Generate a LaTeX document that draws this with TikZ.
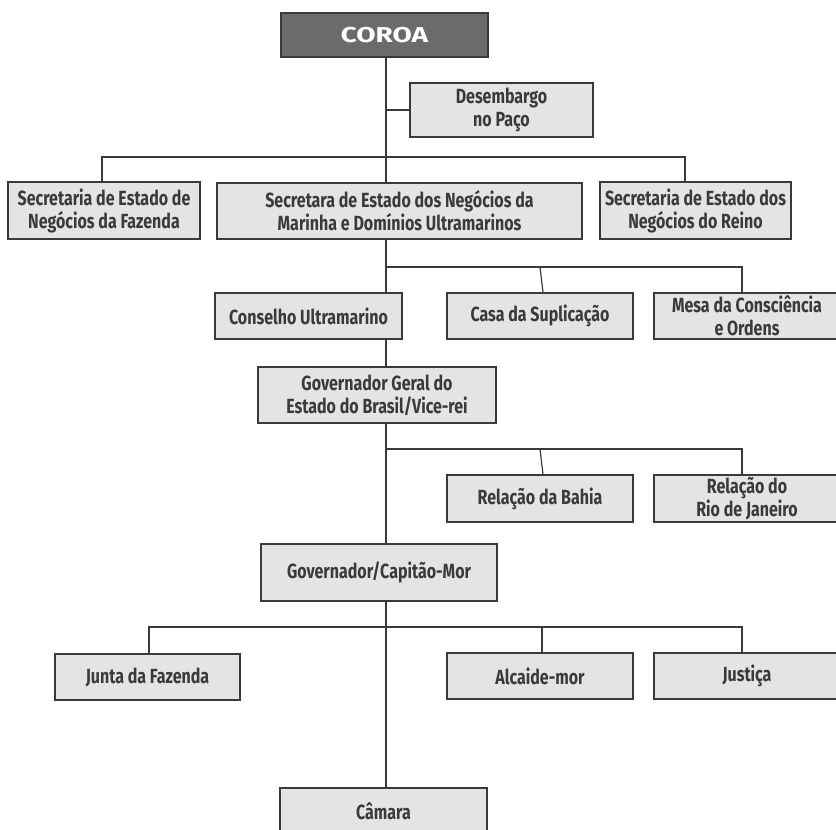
\documentclass[tikz,border=0pt]{standalone}
\usepackage{fontspec}
\newfontfamily\orgfont[FakeStretch=0.78]{Fira Sans}
\newfontfamily\crownfont[FakeStretch=1.3]{Fira Sans}
\usepackage{xcolor}
\usepackage{tikz}
\usetikzlibrary{positioning,backgrounds}

\definecolor{boxgray}{HTML}{E3E4E5}
\definecolor{linegray}{HTML}{3A3A3A}
\definecolor{crowngray}{HTML}{6B6B6B}

\begin{document}
\begin{tikzpicture}[
  x=1pt, y=-1pt,
  org/.style={rectangle, draw=linegray, line width=1.6pt, fill=boxgray, align=center, text=linegray, font=\orgfont\bfseries\fontsize{20.5}{23}\selectfont, inner sep=0pt},
  crown/.style={org, fill=crowngray, text=white, font=\crownfont\bfseries\fontsize{21.5}{24}\selectfont},
  link/.style={draw=linegray, line width=1.6pt},
  drop/.style={draw=linegray, line width=1.2pt}
]
  \useasboundingbox (0,0) rectangle (836,830);

  % Coroa
  \node[crown, minimum width=207pt, minimum height=44pt] (coroa) at (384.5,35) {COROA};
  \node[org, minimum width=183pt, minimum height=54pt] (desemb) at (501.5,110) {Desembargo\\no Paço};

  % Secretarias
  \node[org, minimum width=192pt, minimum height=57pt] (fazenda) at (104,210.5) {Secretaria de Estado de\\Negócios da Fazenda};
  \node[org, minimum width=365pt, minimum height=56pt] (marinha) at (399.5,211) {Secretara de Estado dos Negócios da\\Marinha e Domínios Ultramarinos};
  \node[org, minimum width=191pt, minimum height=57pt] (reino) at (695.5,210.5) {Secretaria de Estado dos\\Negócios do Reino};

  % Conselhos e tribunais
  \node[org, minimum width=187pt, minimum height=46pt] (conselho) at (308.5,316) {Conselho Ultramarino};
  \node[org, minimum width=186pt, minimum height=46pt] (casa) at (540,316) {Casa da Suplicação};
  \node[org, minimum width=186pt, minimum height=46pt] (mesa) at (747,316) {Mesa da Consciência\\e Ordens};

  % Governo geral
  \node[org, minimum width=238pt, minimum height=56pt] (govgeral) at (377,395) {Governador Geral do\\Estado do Brasil/Vice-rei};
  \node[org, minimum width=186pt, minimum height=47pt] (bahia) at (540,498.5) {Relação da Bahia};
  \node[org, minimum width=186pt, minimum height=47pt] (rio) at (747,498.5) {Relação do\\Rio de Janeiro};

  % Capitanias
  \node[org, minimum width=236pt, minimum height=57pt] (govcap) at (379,572.5) {Governador/Capitão-Mor};
  \node[org, minimum width=185pt, minimum height=46pt] (junta) at (147.5,677) {Junta da Fazenda};
  \node[org, minimum width=186pt, minimum height=46pt] (alcaide) at (540,676) {Alcaide-mor};
  \node[org, minimum width=186pt, minimum height=46pt] (justica) at (747,676) {Justiça};
  \node[org, minimum width=207pt, minimum height=46pt] (camara) at (383.5,811) {Câmara};

  % Connectors
  \coordinate (trunk) at (386,0);
  \coordinate (bus1) at (386,157);
  \coordinate (bus2) at (386,267);
  \coordinate (bus3) at (386,449);
  \coordinate (bus4) at (386,627);
  \begin{scope}[on background layer]
    \draw[link] (coroa.south -| trunk) -- (camara.north -| trunk);
    \draw[link] (desemb.west) -- (desemb.west -| trunk);
    \draw[link] ([xshift=-2pt]fazenda.north) |- (bus1) -| ([xshift=-10.5pt]reino.north);
    \draw[link] (bus2) -| ([xshift=-5pt]mesa.north);
    \draw[drop] (bus2 -| casa.north) -- ([xshift=3pt]casa.north);
    \draw[link] (bus3) -| ([xshift=-5pt]rio.north);
    \draw[drop] (bus3 -| bahia.north) -- ([xshift=3pt]bahia.north);
    \draw[link] ([xshift=1.5pt]junta.north) |- (bus4) -| ([xshift=-5pt]justica.north);
    \draw[drop] ([xshift=2pt]bus4 -| alcaide.north) -- ([xshift=2pt]alcaide.north);
  \end{scope}
\end{tikzpicture}
\end{document}
